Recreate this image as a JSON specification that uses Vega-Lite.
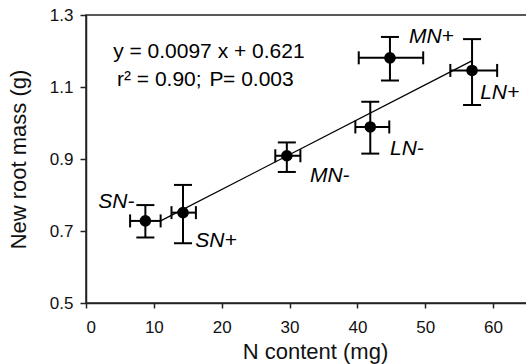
{
  "$schema": "https://vega.github.io/schema/vega-lite/v6.json",
  "width": 441,
  "height": 288,
  "autosize": {"type": "none"},
  "padding": {"left": 86, "top": 15, "right": 0, "bottom": 61},
  "background": "white",
  "config": {
    "view": {"stroke": "#222", "strokeWidth": 1.5},
    "font": "Liberation Sans",
    "axis": {
      "grid": false,
      "domainColor": "#222",
      "domainWidth": 1.5,
      "tickColor": "#222",
      "tickWidth": 1.5,
      "tickSize": 5,
      "labelFont": "Liberation Sans",
      "labelFontSize": 17,
      "labelColor": "#111",
      "titleFont": "Liberation Sans",
      "titleFontSize": 21,
      "titleFontWeight": "normal",
      "titleColor": "#111"
    }
  },
  "datasets": {
    "pts": [
      {"label": "SN-", "x": 8.75, "y": 0.728, "xlo": 6.5, "xhi": 11.0, "ylo": 0.682, "yhi": 0.772, "lx": 1.8, "ly": 0.780},
      {"label": "SN+", "x": 14.3, "y": 0.751, "xlo": 12.6, "xhi": 16.2, "ylo": 0.666, "yhi": 0.828, "lx": 16.1, "ly": 0.672},
      {"label": "MN-", "x": 29.6, "y": 0.909, "xlo": 27.9, "xhi": 31.6, "ylo": 0.864, "yhi": 0.946, "lx": 33.0, "ly": 0.853},
      {"label": "LN-", "x": 41.9, "y": 0.989, "xlo": 39.7, "xhi": 44.7, "ylo": 0.915, "yhi": 1.059, "lx": 44.8, "ly": 0.927},
      {"label": "MN+", "x": 44.8, "y": 1.181, "xlo": 40.2, "xhi": 49.7, "ylo": 1.118, "yhi": 1.239, "lx": 47.6, "ly": 1.239},
      {"label": "LN+", "x": 56.9, "y": 1.146, "xlo": 53.7, "xhi": 60.6, "ylo": 1.050, "yhi": 1.233, "lx": 58.1, "ly": 1.083}
    ],
    "fit": [
      {"x": 11, "y": 0.728},
      {"x": 57, "y": 1.174}
    ],
    "eq": [
      {"t": "y = 0.0097 x + 0.621", "x": 4.0, "y": 1.197, "style": "normal"},
      {"t": "r² = 0.90; ", "x": 4.57, "y": 1.119, "style": "normal"},
      {"t": "P", "x": 18.2, "y": 1.119, "style": "italic"},
      {"t": "= 0.003", "x": 20.2, "y": 1.119, "style": "normal"}
    ]
  },
  "layer": [
    {
      "data": {"name": "fit"},
      "mark": {"type": "line", "color": "#000", "strokeWidth": 1.3},
      "encoding": {
        "x": {"field": "x", "type": "quantitative", "title": "N content (mg)", "scale": {"domain": [0, 65], "nice": false, "zero": false},
              "axis": {"values": [0, 10, 20, 30, 40, 50, 60], "labelPadding": 11, "titleX": 229, "titleY": 55, "titleBaseline": "alphabetic", "titleFontSize": 22}},
        "y": {"field": "y", "type": "quantitative", "title": "New root mass (g)", "scale": {"domain": [0.5, 1.3], "nice": false, "zero": false},
              "axis": {"values": [0.5, 0.7, 0.9, 1.1, 1.3], "format": ".1f", "tickSize": 6, "labelPadding": 7, "titleX": -68, "titleY": 144, "titleBaseline": "middle", "titleAlign": "center", "titleFontSize": 22}}
      }
    },
    {
      "data": {"name": "pts"},
      "mark": {"type": "rule", "color": "#000", "strokeWidth": 2},
      "encoding": {
        "x": {"field": "x", "type": "quantitative", "title": "N content (mg)"},
        "y": {"field": "ylo", "type": "quantitative", "title": "New root mass (g)"},
        "y2": {"field": "yhi"}
      }
    },
    {
      "data": {"name": "pts"},
      "mark": {"type": "rule", "color": "#000", "strokeWidth": 2},
      "encoding": {
        "y": {"field": "y", "type": "quantitative", "title": "New root mass (g)"},
        "x": {"field": "xlo", "type": "quantitative", "title": "N content (mg)"},
        "x2": {"field": "xhi"}
      }
    },
    {
      "data": {"name": "pts"},
      "mark": {"type": "tick", "orient": "horizontal", "size": 18, "thickness": 2, "color": "#000", "opacity": 1},
      "encoding": {
        "x": {"field": "x", "type": "quantitative", "title": "N content (mg)"},
        "y": {"field": "ylo", "type": "quantitative", "title": "New root mass (g)"}
      }
    },
    {
      "data": {"name": "pts"},
      "mark": {"type": "tick", "orient": "horizontal", "size": 18, "thickness": 2, "color": "#000", "opacity": 1},
      "encoding": {
        "x": {"field": "x", "type": "quantitative", "title": "N content (mg)"},
        "y": {"field": "yhi", "type": "quantitative", "title": "New root mass (g)"}
      }
    },
    {
      "data": {"name": "pts"},
      "mark": {"type": "tick", "orient": "vertical", "size": 13, "thickness": 2, "color": "#000", "opacity": 1},
      "encoding": {
        "x": {"field": "xlo", "type": "quantitative", "title": "N content (mg)"},
        "y": {"field": "y", "type": "quantitative", "title": "New root mass (g)"}
      }
    },
    {
      "data": {"name": "pts"},
      "mark": {"type": "tick", "orient": "vertical", "size": 13, "thickness": 2, "color": "#000", "opacity": 1},
      "encoding": {
        "x": {"field": "xhi", "type": "quantitative", "title": "N content (mg)"},
        "y": {"field": "y", "type": "quantitative", "title": "New root mass (g)"}
      }
    },
    {
      "data": {"name": "pts"},
      "mark": {"type": "circle", "size": 135, "color": "#000", "opacity": 1},
      "encoding": {
        "x": {"field": "x", "type": "quantitative", "title": "N content (mg)"},
        "y": {"field": "y", "type": "quantitative", "title": "New root mass (g)"}
      }
    },
    {
      "data": {"name": "pts"},
      "mark": {"type": "text", "align": "left", "baseline": "middle", "fontSize": 21, "fontStyle": "italic", "color": "#000"},
      "encoding": {
        "x": {"field": "lx", "type": "quantitative", "title": "N content (mg)"},
        "y": {"field": "ly", "type": "quantitative", "title": "New root mass (g)"},
        "text": {"field": "label"}
      }
    },
    {
      "data": {"name": "eq"},
      "mark": {"type": "text", "align": "left", "baseline": "middle", "fontSize": 21, "color": "#000"},
      "encoding": {
        "x": {"field": "x", "type": "quantitative", "title": "N content (mg)"},
        "y": {"field": "y", "type": "quantitative", "title": "New root mass (g)"},
        "text": {"field": "t"},
        "fontStyle": {"field": "style", "type": "nominal", "scale": null}
      }
    }
  ]
}
